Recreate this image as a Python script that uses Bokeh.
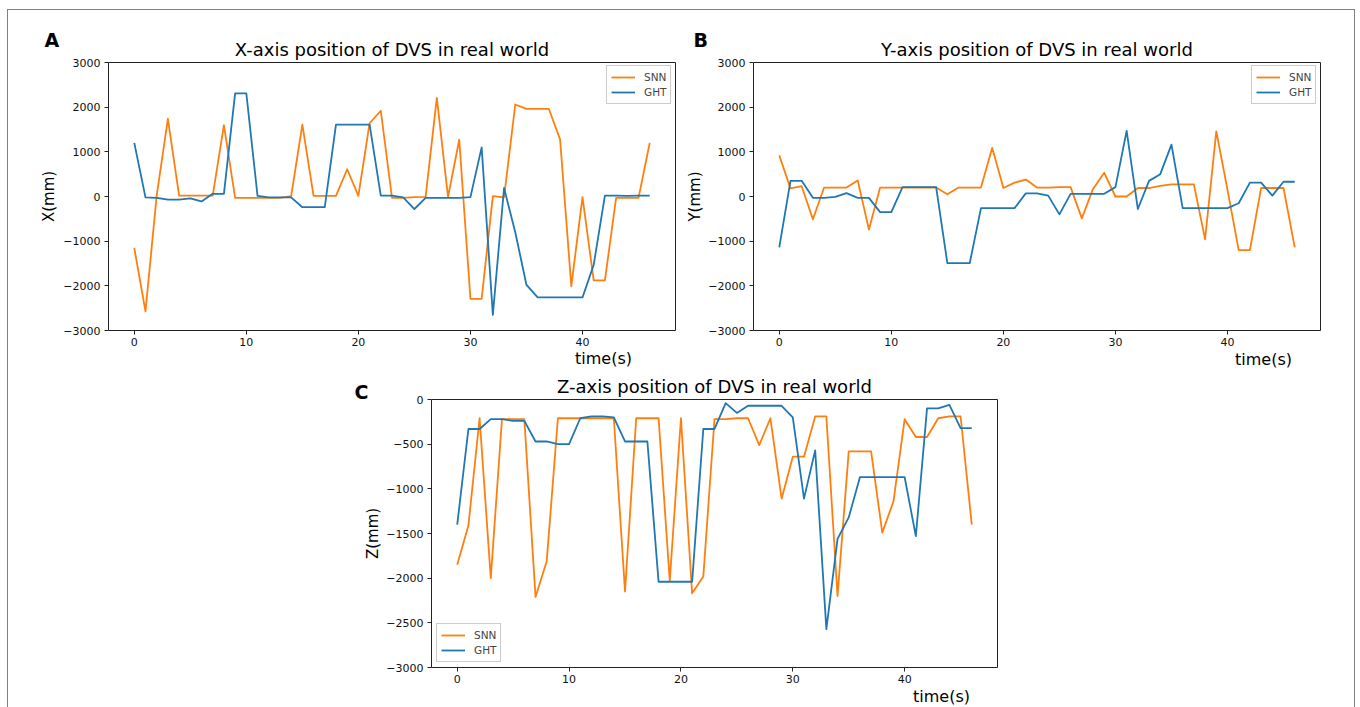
from bokeh.plotting import figure
from bokeh.models import Label, Legend, LegendItem, FixedTicker, Range1d, LinearAxis
from bokeh.layouts import row, column
from bokeh.embed import file_html
from bokeh.resources import INLINE

# ---------------- data ----------------
time_s = list(range(47))

x_snn = [-1150, -2570, 20, 1740, 20, 20, 20, 20, 1600, -30, -30, -30, -30, -30, 10,
         1610, 15, 15, 15, 610, 15, 1640, 1920, -30, -30, -15, -10, 2210, -10, 1270,
         -2290, -2290, 10, -20, 2060, 1960, 1960, 1960, 1280, -2010, -15, -1880, -1880,
         -30, -30, -30, 1200]
x_ght = [1200, -20, -30, -70, -70, -40, -110, 60, 60, 2310, 2310, 15, -20, -20, -20,
         -240, -240, -240, 1610, 1610, 1610, 1610, 20, 20, -20, -280, -30, -30, -30, -30,
         -15, 1100, -2650, 190, -800, -1980, -2260, -2260, -2260, -2260, -2260, -1530,
         20, 20, 15, 20, 20]

y_snn = [920, 180, 230, -510, 200, 200, 200, 360, -740, 200, 200, 200, 200, 200, 200,
         50, 200, 200, 200, 1090, 190, 310, 380, 200, 200, 210, 210, -490, 170, 530,
         0, 0, 190, 190, 240, 270, 270, 270, -960, 1460, 150, -1200, -1200, 190, 190,
         190, -1140]
y_ght = [-1140, 350, 350, -30, -30, -10, 75, -30, -30, -350, -350, 210, 210, 210, 210,
         -1490, -1490, -1490, -260, -260, -260, -260, 70, 70, 20, -400, 60, 60, 60, 60,
         210, 1470, -280, 350, 500, 1160, -260, -260, -260, -260, -260, -150, 310, 310,
         20, 330, 330]

z_snn = [-1850, -1410, -210, -2000, -220, -220, -220, -2210, -1810, -210, -210, -210,
         -210, -210, -210, -2150, -210, -210, -210, -2030, -210, -2170, -1980, -220,
         -220, -210, -210, -510, -210, -1110, -640, -640, -190, -190, -2200, -580, -580,
         -580, -1490, -1140, -220, -420, -420, -210, -190, -190, -1400]
z_ght = [-1400, -330, -330, -220, -220, -240, -240, -470, -470, -500, -500, -210, -190,
         -190, -200, -470, -470, -470, -2040, -2040, -2040, -2040, -330, -330, -40, -150,
         -70, -70, -70, -70, -200, -1110, -570, -2570, -1560, -1320, -870, -870, -870,
         -870, -870, -1530, -100, -100, -60, -320, -320]

x_ticks = [0, 10, 20, 30, 40]
xy_ticks = [-3000, -2000, -1000, 0, 1000, 2000, 3000]
z_ticks = [-3000, -2500, -2000, -1500, -1000, -500, 0]
series_names = ["SNN", "GHT"]
titles = ["X-axis position of DVS in real world",
          "Y-axis position of DVS in real world",
          "Z-axis position of DVS in real world"]
y_labels = ["X(mm)", "Y(mm)", "Z(mm)"]
x_label = "time(s)"
panel_letters = ["A", "B", "C"]

# ---------------- style ----------------
ORANGE = "#ff7f0e"
BLUE = "#1f77b4"
FONT = "DejaVu Sans"
DARK = "#222222"
X_LIM = (-2.3, 48.3)


def minus(v):
    return str(v).replace("-", "\u2212")


def make_panel(canvas, box, ylim, yticks, snn, ght, legend_box, texts):
    """canvas = (page_x, page_y, width, height); box = plot box (l, t, r, b) in page px."""
    cx, cy, W, H = canvas
    l, t, r, b = box
    kx = (r - l) / (X_LIM[1] - X_LIM[0])
    ky = (b - t) / (ylim[1] - ylim[0])
    xr = Range1d(X_LIM[0] - (l - cx) / kx, X_LIM[1] + (cx + W - r) / kx)
    yr = Range1d(ylim[0] - (cy + H - b) / ky, ylim[1] + (t - cy) / ky)

    def px2x(px):
        return X_LIM[0] + (px - l) / kx

    def py2y(py):
        return ylim[1] - (py - t) / ky

    p = figure(width=W, height=H, output_backend="svg", toolbar_location=None,
               title=None, x_range=xr, y_range=yr, min_border=0,
               x_axis_location=None, y_axis_location=None)
    p.xgrid.visible = False
    p.ygrid.visible = False
    p.background_fill_color = "white"
    p.border_fill_color = "white"
    p.outline_line_color = None

    r1 = p.line(time_s, snn, line_color=ORANGE, line_width=1.8, line_join="round")
    r2 = p.line(time_s, ght, line_color=BLUE, line_width=1.8, line_join="round")

    def style(ax):
        ax.axis_line_color = DARK
        ax.axis_line_width = 1
        ax.major_tick_line_color = DARK
        ax.major_tick_out = 4
        ax.major_tick_in = 0
        ax.minor_tick_line_color = None
        ax.major_label_text_font = FONT
        ax.major_label_text_font_size = "11px"
        ax.major_label_text_color = "#111111"

    xb = LinearAxis(fixed_location=ylim[0], bounds=X_LIM, ticker=FixedTicker(ticks=x_ticks))
    style(xb)
    xb.major_label_standoff = 3
    p.add_layout(xb, "below")

    yl = LinearAxis(fixed_location=X_LIM[0], bounds=ylim, ticker=FixedTicker(ticks=yticks))
    style(yl)
    yl.major_label_standoff = 4
    yl.major_label_overrides = {v: minus(v) for v in yticks}
    p.add_layout(yl, "left")

    xt = LinearAxis(fixed_location=ylim[1], bounds=X_LIM, ticker=FixedTicker(ticks=[]))
    style(xt)
    p.add_layout(xt, "above")

    yrt = LinearAxis(fixed_location=X_LIM[1], bounds=ylim, ticker=FixedTicker(ticks=[]))
    style(yrt)
    p.add_layout(yrt, "right")

    lx, lb = legend_box
    legend = Legend(items=[LegendItem(label=series_names[0], renderers=[r1]),
                           LegendItem(label=series_names[1], renderers=[r2])],
                    location=(lx - cx, cy + H - lb), margin=0, padding=4, spacing=1,
                    glyph_width=24, glyph_height=14, label_height=14,
                    label_standoff=9, label_text_font=FONT,
                    label_text_font_size="10.5px",
                    border_line_color="#cccccc", border_line_alpha=1,
                    background_fill_alpha=0.85)
    p.add_layout(legend)

    title, letter, ylab = texts["title"], texts["letter"], texts["ylab"]
    p.add_layout(Label(x=px2x((l + r) / 2), y=py2y(texts["title_mid"]), text=title,
                       text_font=FONT, text_font_size="18px", text_align="center",
                       text_baseline="middle", text_color="#000000"))
    p.add_layout(Label(x=px2x(texts["letter_pos"][0]), y=py2y(texts["letter_pos"][1]),
                       text=letter, text_font=FONT, text_font_size="19px",
                       text_font_style="bold", text_align="left",
                       text_baseline="middle", text_color="#000000"))
    p.add_layout(Label(x=px2x(texts["ylab_pos"][0]), y=py2y(texts["ylab_pos"][1]),
                       text=ylab, text_font=FONT, text_font_size="15px", angle=90,
                       angle_units="deg", text_align="center", text_baseline="middle",
                       text_color="#000000"))
    p.add_layout(Label(x=px2x(texts["xlab_pos"][0]), y=py2y(texts["xlab_pos"][1]),
                       text=x_label, text_font=FONT, text_font_size="16px",
                       text_align="center", text_baseline="middle",
                       text_color="#000000"))
    return p


pA = make_panel((8, 10, 673, 360), (108, 62, 675, 330), (-3000, 3000), xy_ticks,
                x_snn, x_ght, (606, 104),
                dict(title=titles[0], letter=panel_letters[0], ylab=y_labels[0],
                     title_mid=49, letter_pos=(44, 39.5), ylab_pos=(48, 196),
                     xlab_pos=(603, 358)))
pB = make_panel((681, 10, 673, 360), (753, 62, 1320, 330), (-3000, 3000), xy_ticks,
                y_snn, y_ght, (1251, 104),
                dict(title=titles[1], letter=panel_letters[1], ylab=y_labels[1],
                     title_mid=49, letter_pos=(693, 39.5), ylab_pos=(694, 196),
                     xlab_pos=(1263, 359)))
pC = make_panel((8, 370, 1346, 337), (431, 399, 997, 667), (-3000, 0), z_ticks,
                z_snn, z_ght, (436, 662),
                dict(title=titles[2], letter=panel_letters[2], ylab=y_labels[2],
                     title_mid=386, letter_pos=(354, 391.5), ylab_pos=(372, 533),
                     xlab_pos=(941, 696)))

layout = column(row(pA, pB), pC, margin=(9, 0, 0, 7),
                styles={"border-left": "1px solid #808080",
                        "border-top": "1px solid #808080",
                        "border-right": "1px solid #808080"})

open("out.html", "w").write(file_html(layout, INLINE))
